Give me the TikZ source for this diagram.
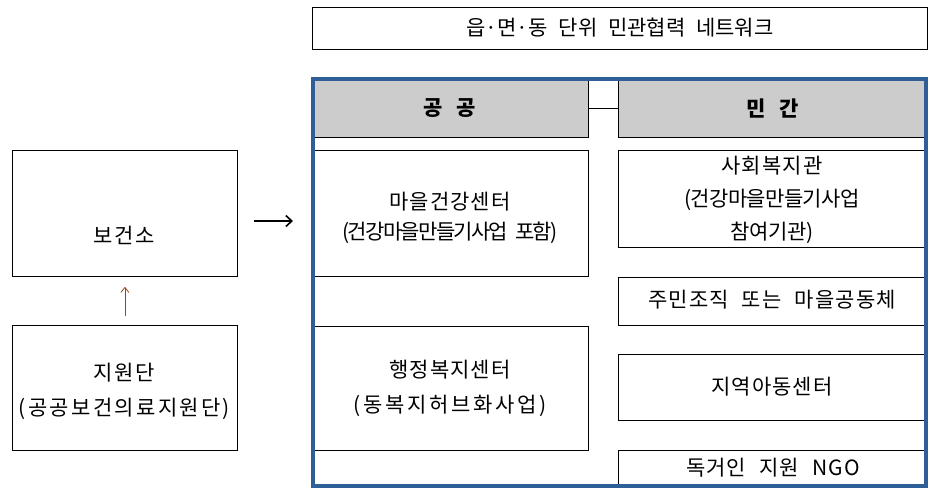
\documentclass[tikz,border=0pt]{standalone}
\usepackage{fontspec}
\usetikzlibrary{arrows.meta}
\setmainfont{Noto Sans CJK KR}
\newfontfamily\kr[WordSpace=2.3]{Noto Sans CJK KR}
\definecolor{frameblue}{RGB}{47,95,152}
\definecolor{hdrgray}{RGB}{204,204,204}
\definecolor{arrbrown}{RGB}{150,70,40}
\tikzset{
  box/.style={draw, line width=0.8pt, inner sep=0pt, anchor=north west},
  hdrbox/.style={box, fill=hdrgray},
  txt/.style={font=\kr\fontsize{21}{31}\selectfont\addfontfeature{LetterSpace=5}, align=center, inner sep=0pt},
  conn/.style={line width=0.8pt}
}
\begin{document}
\begin{tikzpicture}[x=1pt,y=-1pt]
\useasboundingbox (0,0) rectangle (942,491);
% title
\node[box, minimum width=615pt, minimum height=42pt] (title) at (312,7) {};
\node[txt] (titletxt) at (620,28) {\addfontfeature{LetterSpace=0}읍·면·동 단위 민관협력 네트워크};
% headers
\node[hdrbox, minimum width=275pt, minimum height=58pt] (hpub) at (313,79) {};
\node[hdrbox, minimum width=308pt, minimum height=58pt] (hpriv) at (618,79) {};
\node[txt] (hpubtxt) at (450,108) {\bfseries 공 공};
\node[txt] (hprivtxt) at (773,108) {\bfseries 민 간};
\draw[conn] (hpub.east) -- (hpriv.west);
% public column
\node[box, minimum width=275pt, minimum height=126pt] (maeul) at (313,150) {};
\node[txt, font=\kr\fontsize{21}{30}\selectfont] (maeultxt) at (450,218) {\addfontfeature{LetterSpace=5}마을건강센터\\\addfontfeature{LetterSpace=-8}(건강마을만들기사업 포함)};
\node[box, minimum width=275pt, minimum height=124pt] (haeng) at (313,326) {};
\node[txt, font=\kr\fontsize{21}{35}\selectfont] (haengtxt) at (450,388) {\addfontfeature{LetterSpace=5}행정복지센터\\\addfontfeature{LetterSpace=13}(동복지허브화사업)};
% private column
\node[box, minimum width=309pt, minimum height=97pt] (sahoe) at (618,150) {};
\node[txt, font=\kr\fontsize{21}{33}\selectfont] (sahoetxt) at (772,200) {\addfontfeature{LetterSpace=5}사회복지관\\\addfontfeature{LetterSpace=-3}(건강마을만들기사업\\\addfontfeature{LetterSpace=-1}참여기관)};
\node[box, minimum width=309pt, minimum height=48pt] (jumin) at (618,277) {};
\node[txt] (jumintxt) at (772,300) {주민조직 또는 마을공동체};
\node[box, minimum width=309pt, minimum height=66pt] (jiyeok) at (618,354) {};
\node[txt] (jiyeoktxt) at (772,387) {지역아동센터};
\node[box, minimum width=309pt, minimum height=36pt] (dokgeo) at (618,450) {};
\node[txt] (dokgeotxt) at (773,468) {독거인 지원 NGO};
% blue frame
\draw[frameblue, line width=3.6pt] (313,79) rectangle (926,486);
% left column
\node[box, minimum width=225pt, minimum height=126pt] (bogeon) at (12,150) {};
\node[txt] (bogeontxt) at (124.5,235) {\addfontfeature{LetterSpace=8}보건소};
\node[box, minimum width=225pt, minimum height=125pt] (jiwon) at (12,325) {};
\node[txt, font=\kr\fontsize{21}{35}\selectfont] (jiwontxt) at (124.5,391) {\addfontfeature{LetterSpace=8}지원단\\\addfontfeature{LetterSpace=11}(공공보건의료지원단)};
% arrows
\draw[arrbrown, line width=0.8pt, -{Straight Barb[length=5pt,width=8pt]}, shorten <=9pt, shorten >=10pt] (jiwon.north) -- (bogeon.south);
\coordinate (ra) at (254,221);
\coordinate (rb) at (293,221);
\draw[line width=1.6pt, -{Straight Barb[length=6pt,width=11pt]}] (ra) -- (rb);
\end{tikzpicture}
\end{document}
